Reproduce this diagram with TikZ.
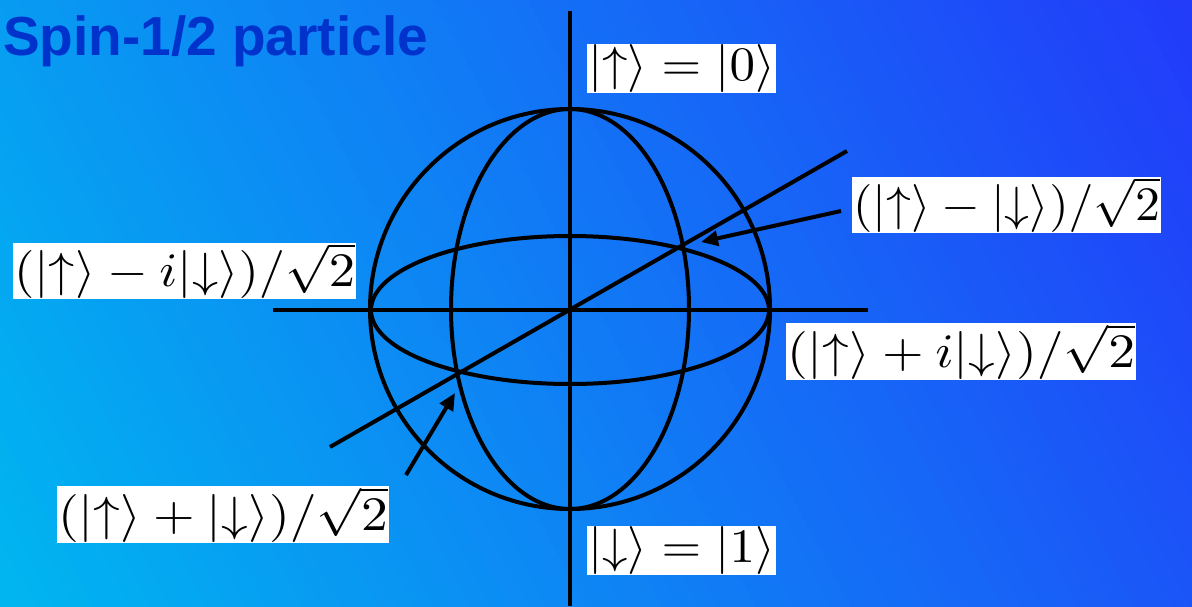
\documentclass[tikz,border=0pt]{standalone}
\usepackage{fontspec}
\usepackage{graphicx}
\newfontfamily\titlefont{Liberation Sans}
\usetikzlibrary{arrows.meta}
\definecolor{bgA}{RGB}{0,182,240}
\definecolor{bgB}{RGB}{34,60,250}
\definecolor{titleblue}{RGB}{0,51,204}
\newsavebox\labbox
\newcommand\lab[2]{\sbox\labbox{$#2$}\pgfmathsetmacro\labsx{#1/\wd\labbox}\scalebox{\labsx}[4.8]{\usebox\labbox}}
\newcommand\ua{|{\uparrow}\rangle}
\newcommand\da{|{\downarrow}\rangle}
\begin{document}
\begin{tikzpicture}[x=1pt,y=-1pt,
 geom/.style={line width=4pt, draw=black},
 pointer/.style={line width=4pt, -{Triangle[length=17pt,width=15pt]}},
 statelabel/.style={fill=white, inner xsep=1pt, inner ysep=0.5pt, font=\normalsize},
 titletext/.style={inner sep=0pt, anchor=base west, text=titleblue, font=\titlefont\bfseries\fontsize{55}{66}\selectfont}]
\useasboundingbox (0,0) rectangle (1192,606);
\begin{scope}
\clip (0,0) rectangle (1192,606);
\begin{scope}[shift={(0,606)}, rotate=28]
\foreach \i in {0,...,79}{
  \pgfmathsetmacro\sa{\i*16.71-1}
  \pgfmathsetmacro\sb{(\i+1)*16.71+1}
  \pgfmathsetmacro\p{100*\i/79}
  \fill[bgB!\p!bgA] (\sa,-1400) -- (\sb,-1400) -- (\sb,1400) -- (\sa,1400) -- cycle;
}
\end{scope}
\end{scope}
\draw[geom] (570,309) circle[radius=200];
\draw[geom] (570,309) ellipse[x radius=119, y radius=200];
\draw[geom] (570,310) ellipse[x radius=199, y radius=74];
\draw[geom] (570,11) -- (570,606);
\draw[geom] (273,310) -- (868,310);
\draw[geom] (330,447) -- (847,151);
\coordinate (tailA) at (841,211);
\coordinate (tipA) at (701,242);
\coordinate (tailB) at (406,475);
\coordinate (tipB) at (455,393);
\draw[pointer] (tailA) -- (tipA);
\draw[pointer] (tailB) -- (tipB);
\node[statelabel] (up) at (681.5,68.5) {\lab{187}{\ua=|0\rangle}};
\node[statelabel] (down) at (681.5,550.5) {\lab{187}{\da=|1\rangle}};
\node[statelabel] (xminus) at (1006.5,205) {\lab{307}{(\ua-\da)/\sqrt{2}}};
\node[statelabel] (yplus) at (961,351.5) {\lab{348}{(\ua+i\da)/\sqrt{2}}};
\node[statelabel] (yminus) at (184.5,271) {\lab{341}{(\ua-i\da)/\sqrt{2}}};
\node[statelabel] (xplus) at (223,514.5) {\lab{330}{(\ua+\da)/\sqrt{2}}};
\node[titletext] (title) at (3,55) {Spin-1/2 particle};
\end{tikzpicture}
\end{document}
